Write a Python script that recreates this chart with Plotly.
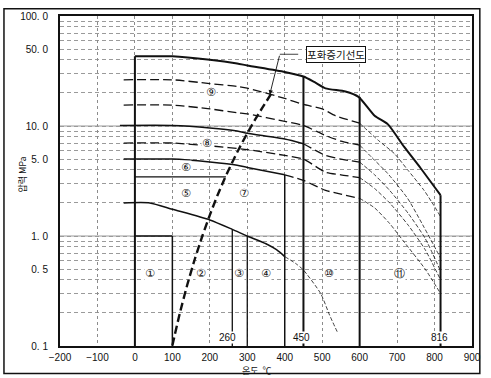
import math
import plotly.graph_objects as go

# ---------------- axis ticks ----------------
x_tickvals = [-200, -100, 0, 100, 200, 300, 400, 500, 600, 700, 800, 900]
y_tickvals = [0.1, 0.5, 1, 5, 10, 50, 100]
y_ticktext = ["0. 1", "0. 5", "1. 0", "5. 0", "10. 0", "50. 0", "100. 0"]
y_minor_vals = [0.2, 0.3, 0.4, 0.6, 0.7, 0.8, 0.9,
                2, 3, 4, 6, 7, 8, 9,
                20, 30, 40, 60, 70, 80, 90]
y_solid_grid = [1, 10]

# ---------------- curves (temperature degC, pressure MPa) ----------------
top_T = [0, 100, 200, 273, 300, 400, 450, 480, 509, 562, 597, 640, 675, 719, 763, 816]
top_P = [43, 43, 40, 37, 35.5, 31, 28.2, 25, 22, 20.6, 18.4, 12.4, 10.4, 6.45, 4.13, 2.35]

sat_T = [100, 120, 140, 160, 180, 200, 220, 240, 260, 280, 300, 320, 340, 365]
sat_P = [0.101, 0.199, 0.362, 0.618, 1.00, 1.55, 2.32, 3.35, 4.69, 6.42, 8.59, 11.3, 14.6, 19.9]

c1_T = [-30, 100, 200, 273, 300, 400, 450, 500, 535, 600]
c1_P = [26.3, 26.3, 24.3, 22.9, 22.1, 17.8, 15.7, 14.3, 12.4, 10.6]
c1_tail_T = [600, 650, 693, 728, 772, 798, 816]
c1_tail_P = [10.6, 7.4, 5.6, 4.0, 2.6, 1.9, 1.5]

c2_T = [-30, 100, 200, 273, 300, 400, 450, 509, 550, 600]
c2_P = [15.5, 15.5, 14.3, 13.2, 12.9, 11.0, 10.1, 8.2, 7.3, 6.7]
c2_tail_T = [600, 632, 675, 728, 772, 816]
c2_tail_P = [6.7, 5.2, 3.7, 2.2, 1.2, 0.63]

c3_T = [-40, 100, 200, 273, 300, 400, 450]
c3_P = [10.1, 10.1, 9.6, 9.0, 8.6, 7.6, 6.9]
c3_mid_T = [450, 509, 550, 600]
c3_mid_P = [6.9, 5.4, 5.0, 4.7]
c3_tail_T = [600, 640, 680, 730, 775, 816]
c3_tail_P = [4.7, 3.6, 2.6, 1.6, 0.95, 0.48]

c4_T = [-30, 100, 200, 300, 400, 450, 509, 550, 600]
c4_P = [7.0, 7.0, 6.6, 6.1, 5.4, 5.0, 3.8, 3.6, 3.4]
c4_tail_T = [600, 640, 680, 730, 775, 816]
c4_tail_P = [3.4, 2.7, 2.0, 1.25, 0.75, 0.40]

c5_T = [-30, 100, 200, 273, 300, 400]
c5_P = [5.0, 5.0, 4.7, 4.4, 4.2, 3.6]
c5_mid_T = [400, 450, 509, 550, 600]
c5_mid_P = [3.6, 3.2, 2.6, 2.4, 2.2]
c5_tail_T = [600, 640, 680, 719, 775, 816]
c5_tail_P = [2.2, 1.8, 1.3, 0.88, 0.5, 0.30]

c6_T = [-30, 40, 100, 200, 260, 300, 350, 378, 400]
c6_P = [2.0, 2.0, 1.75, 1.4, 1.15, 1.0, 0.85, 0.75, 0.65]
c6_tail_T = [400, 430, 450, 496, 520, 540]
c6_tail_P = [0.65, 0.56, 0.49, 0.30, 0.19, 0.135]

# boundary verticals: temperature, top pressure (bottom is 0.1 MPa)
vb_T = [0, 100, 260, 300, 400, 450, 600, 816]
vb_Ptop = [43, 1.0, 1.15, 1.0, 3.6, 28.2, 18.4, 2.35]
vb_bottom = 0.1

# short horizontal boundaries
h1_T = [0, 100]
h1_P = [1.0, 1.0]
h2_T = [0, 243]
h2_P = [3.45, 3.45]

# region labels
region_text = ["①", "②", "③", "④", "⑤", "⑥", "⑦", "⑧", "⑨", "⑩", "⑪"]
region_T = [41, 177, 279, 350, 137, 137, 291, 192, 203, 518, 706]
region_P = [0.46, 0.46, 0.46, 0.46, 2.44, 4.2, 2.44, 7.0, 20, 0.46, 0.46]

# bottom temperature labels
temp_text = ["260", "450", "816"]
temp_T = [248, 446, 813]
temp_P = 0.12

# saturation-line callout
sat_label = "포화증기선도"
sat_label_T = 538
sat_label_P = 44.9
leader_T = [387, 436]
arrow_T = 360
arrow_P = 19.3

fig = go.Figure()


def add_line(T, P, width, dash="solid", shape="linear"):
    fig.add_trace(go.Scatter(
        x=T, y=P, mode="lines",
        line=dict(color="#111111", width=width, dash=dash, shape=shape, smoothing=0.6),
        hoverinfo="skip", showlegend=False))


MED_DASH = "9px,4px"
THIN_DASH = "4px,2px"

add_line(top_T, top_P, 2.0, shape="spline")
add_line(c1_T, c1_P, 1.3, MED_DASH, "spline")
add_line(c1_tail_T, c1_tail_P, 0.8, THIN_DASH, "spline")
add_line(c2_T, c2_P, 1.3, MED_DASH, "spline")
add_line(c2_tail_T, c2_tail_P, 0.8, THIN_DASH, "spline")
add_line(c3_T, c3_P, 1.5, shape="spline")
add_line(c3_mid_T, c3_mid_P, 1.3, MED_DASH, "spline")
add_line(c3_tail_T, c3_tail_P, 0.8, THIN_DASH, "spline")
add_line(c4_T, c4_P, 1.3, MED_DASH, "spline")
add_line(c4_tail_T, c4_tail_P, 0.8, THIN_DASH, "spline")
add_line(c5_T, c5_P, 1.5, shape="spline")
add_line(c5_mid_T, c5_mid_P, 1.3, MED_DASH, "spline")
add_line(c5_tail_T, c5_tail_P, 0.8, THIN_DASH, "spline")
add_line(c6_T, c6_P, 1.5, shape="spline")
add_line(c6_tail_T, c6_tail_P, 0.8, THIN_DASH, "spline")
add_line(sat_T, sat_P, 2.4, "8px,4px", "spline")

vb_width = [2.0, 1.5, 1.3, 1.3, 1.5, 2.0, 2.0, 2.0]
for t, ptop, w in zip(vb_T, vb_Ptop, vb_width):
    add_line([t, t], [vb_bottom, ptop], w)
add_line(h1_T, h1_P, 1.5)
add_line(h2_T, h2_P, 1.3)

# leader line of the callout
add_line(leader_T, [sat_label_P, sat_label_P], 0.8)

annotations = []
for txt, t, p in zip(region_text, region_T, region_P):
    annotations.append(dict(x=t, y=math.log10(p), xref="x", yref="y",
                            text=txt, showarrow=False, bgcolor="white", borderpad=0,
                            xanchor="center", yanchor="middle",
                            font=dict(size=11, color="#111", family="DejaVu Sans")))
for txt, t in zip(temp_text, temp_T):
    annotations.append(dict(x=t, y=math.log10(temp_P), xref="x", yref="y", text=txt,
                            showarrow=False, bgcolor="white", borderpad=0,
                            xanchor="center", yanchor="middle",
                            font=dict(size=10, color="#111", family="Liberation Sans")))
annotations.append(dict(x=sat_label_T, y=math.log10(sat_label_P), xref="x", yref="y",
                        text=sat_label, showarrow=False, bgcolor="white",
                        xanchor="center", yanchor="middle",
                        bordercolor="#111", borderwidth=1, borderpad=0,
                        font=dict(size=10.5, color="#111", family="Noto Sans CJK KR")))
annotations.append(dict(x=arrow_T, y=math.log10(arrow_P), xref="x", yref="y",
                        ax=leader_T[0], ay=math.log10(sat_label_P), axref="x", ayref="y",
                        text="", showarrow=True, arrowhead=2, arrowsize=1.0,
                        arrowwidth=0.9, arrowcolor="#111"))
annotations.append(dict(x=0.477, y=-0.074, xref="paper", yref="paper",
                        xanchor="center", yanchor="middle",
                        text="온도  ℃", showarrow=False,
                        font=dict(size=9, color="#111", family="Noto Sans CJK KR")))
annotations.append(dict(x=-0.091, y=0.518, xref="paper", yref="paper",
                        xanchor="center", yanchor="middle",
                        text="압력 MPa", textangle=-90, showarrow=False,
                        font=dict(size=9, color="#111", family="Noto Sans CJK KR")))

shapes = []
for v in y_solid_grid:
    shapes.append(dict(type="line", xref="paper", yref="y", x0=0, x1=1, y0=v, y1=v,
                       line=dict(color="#9a9a9a", width=1), layer="below"))
# outer picture border
shapes.append(dict(type="rect", xref="paper", yref="paper",
                   x0=-0.136, x1=1.019, y0=-0.083, y1=1.022,
                   line=dict(color="#111", width=1.5), layer="above"))

fig.update_layout(
    width=491, height=378,
    margin=dict(l=60, r=12, t=10, b=32),
    paper_bgcolor="white", plot_bgcolor="white",
    showlegend=False,
    annotations=annotations,
    shapes=shapes,
    xaxis=dict(range=[-200, 900], tickmode="array", tickvals=x_tickvals,
               showgrid=True, gridcolor="#8c8c8c", griddash="dot", gridwidth=1,
               zeroline=False, showline=True, mirror=True, linecolor="#111", linewidth=2,
               ticks="", ticklabelstandoff=1,
               tickfont=dict(size=10, color="#111", family="Liberation Sans")),
    yaxis=dict(type="log", range=[-1, 2], tickmode="array", tickvals=y_tickvals,
               ticktext=y_ticktext,
               showgrid=True, gridcolor="#9a9a9a", griddash="4px,3px", gridwidth=1,
               minor=dict(tickmode="array", tickvals=y_minor_vals, showgrid=True,
                          gridcolor="#9a9a9a", griddash="4px,3px", gridwidth=1, ticklen=0),
               zeroline=False, showline=True, mirror=True, linecolor="#111", linewidth=2,
               ticks="", ticklabelstandoff=8,
               tickfont=dict(size=10, color="#111", family="Liberation Sans")),
)

fig.write_html("out.html", config={"displayModeBar": False},
               post_script="document.body.style.margin='0px';")
